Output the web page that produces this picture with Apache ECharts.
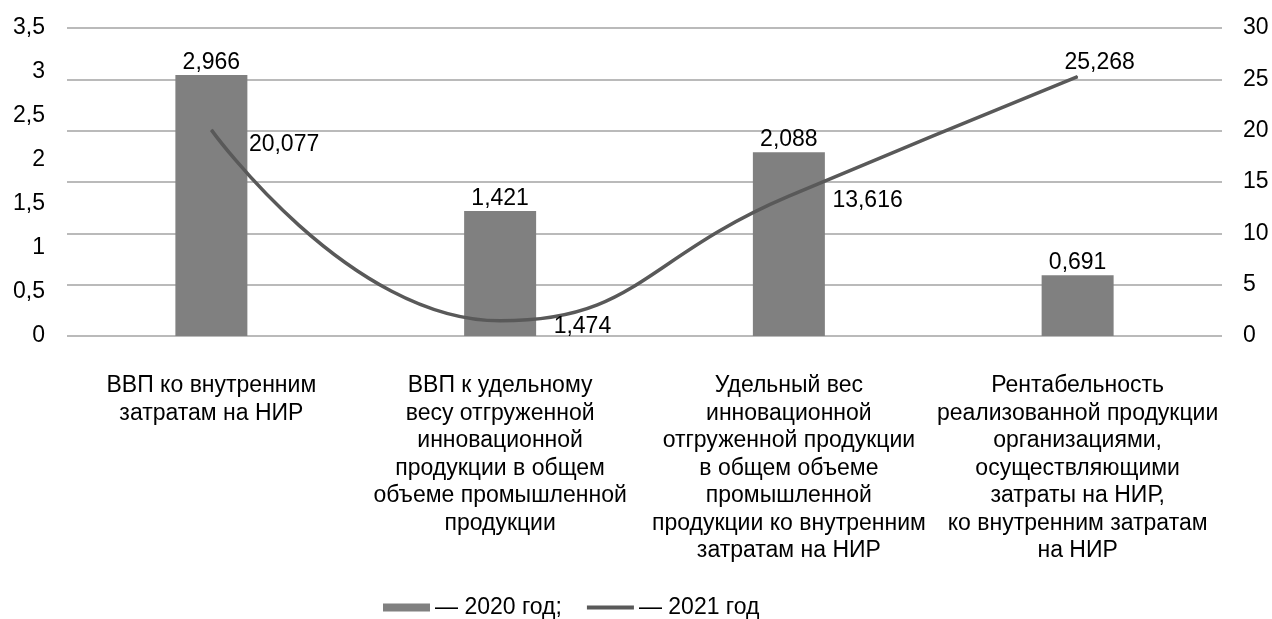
<!DOCTYPE html>
<html>
<head>
<meta charset="utf-8">
<script src="https://cdn.jsdelivr.net/npm/echarts@6/dist/echarts.min.js"></script>
<style>
  html, body { margin: 0; padding: 0; background: #fff; }
  #main { width: 1272px; height: 619px; }
</style>
</head>
<body>
<div id="main"></div>
<script>
// категории и значения
const categories = [
  'ВВП ко внутренним\nзатратам на НИР',
  'ВВП к удельному\nвесу отгруженной\nинновационной\nпродукции в общем\nобъеме промышленной\nпродукции',
  'Удельный вес\nинновационной\nотгруженной продукции\nв общем объеме\nпромышленной\nпродукции ко внутренним\nзатратам на НИР',
  'Рентабельность\nреализованной продукции\nорганизациями,\nосуществляющими\nзатраты на НИР,\nко внутренним затратам\nна НИР'
];
const values2020 = [2.966, 1.421, 2.088, 0.691];
const values2021 = [20.077, 1.474, 13.616, 25.268];
const seriesNames = ['— 2020 год;', '— 2021 год'];

// ручное смещение подписей линии (как в исходнике)
const lineLabelPos = [
  { position: 'right', offset: [32, 15] },
  { position: 'right', offset: [48, 6] },
  { position: 'right', offset: [38, 4] },
  { position: 'top', offset: [22, 3] }
];

const font = 'Arial, "Liberation Sans", sans-serif';
const comma = v => String(v).replace('.', ',');
const fmt3 = v => v.toFixed(3).replace('.', ',');

const myChart = echarts.init(document.getElementById('main'));

const option = {
  animation: false,
  textStyle: { fontFamily: font, color: '#000' },
  grid: { left: 67, right: 50, top: 28, bottom: 283, containLabel: false },
  legend: {
    left: 383,
    top: 596,
    padding: 0,
    itemWidth: 47,
    itemHeight: 8,
    itemGap: 25,
    textStyle: { fontFamily: font, fontSize: 23, color: '#000' },
    data: [
      { name: seriesNames[0], icon: 'rect' },
      { name: seriesNames[1], icon: 'path://M0,0h48v4H0z' }
    ]
  },
  xAxis: {
    type: 'category',
    data: categories,
    axisLine: { show: false },
    axisTick: { show: false },
    axisLabel: {
      interval: 0,
      margin: 36,
      fontSize: 23,
      lineHeight: 27.5,
      color: '#000',
      fontFamily: font
    }
  },
  yAxis: [
    {
      type: 'value',
      min: 0, max: 3.5, interval: 0.5,
      splitLine: { show: false },
      axisLine: { show: false },
      axisTick: { show: false },
      axisLabel: { margin: 22, fontSize: 23, color: '#000', fontFamily: font, formatter: comma }
    },
    {
      type: 'value',
      min: 0, max: 30, interval: 5,
      splitLine: { show: true, lineStyle: { color: '#a3a3a3', width: 1.5 } },
      axisLine: { show: false },
      axisTick: { show: false },
      axisLabel: { margin: 21, fontSize: 23, color: '#000', fontFamily: font }
    }
  ],
  series: [
    {
      name: seriesNames[0],
      type: 'bar',
      yAxisIndex: 0,
      barWidth: 72,
      data: values2020,
      itemStyle: { color: '#808080' },
      label: {
        show: true,
        position: 'top',
        distance: 1,
        fontSize: 23,
        color: '#000',
        fontFamily: font,
        formatter: p => fmt3(p.value)
      },
      z: 2
    },
    {
      name: seriesNames[1],
      type: 'line',
      yAxisIndex: 1,
      smooth: 0.5,
      symbol: 'circle',
      symbolSize: 1,
      showSymbol: true,
      lineStyle: { color: '#595959', width: 3.5 },
      itemStyle: { color: '#595959' },
      data: values2021.map((v, i) => ({
        value: v,
        label: Object.assign({ show: true }, lineLabelPos[i])
      })),
      label: {
        show: true,
        distance: 5,
        fontSize: 23,
        color: '#000',
        fontFamily: font,
        formatter: p => fmt3(p.value)
      },
      z: 3
    }
  ]
};
myChart.setOption(option);
</script>
</body>
</html>
